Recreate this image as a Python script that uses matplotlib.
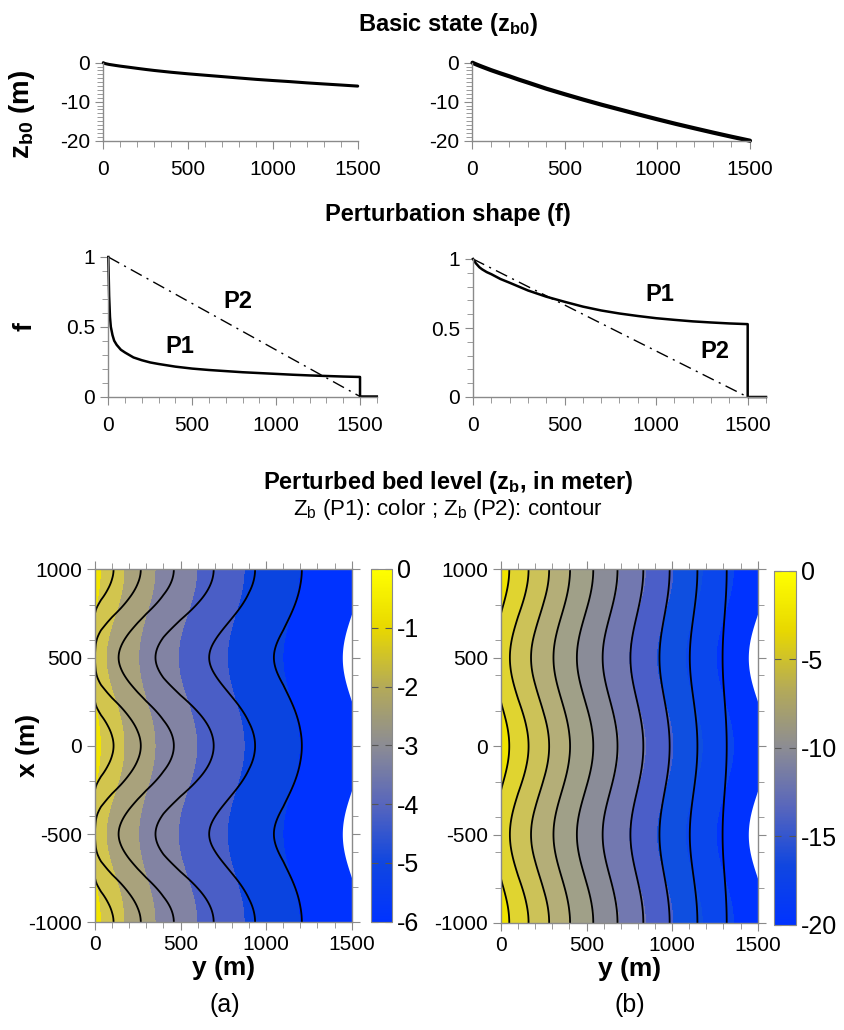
import numpy as np
import matplotlib
matplotlib.use("Agg")
import matplotlib.pyplot as plt
from matplotlib.colors import LinearSegmentedColormap, Normalize
from matplotlib.cm import ScalarMappable
from matplotlib.ticker import MultipleLocator

plt.rcParams["font.family"] = ["Liberation Sans", "DejaVu Sans"]
plt.rcParams["mathtext.fontset"] = "custom"
plt.rcParams["mathtext.rm"] = "Liberation Sans"
plt.rcParams["mathtext.bf"] = "Liberation Sans:bold"
plt.rcParams["mathtext.it"] = "Liberation Sans:italic"
plt.rcParams["axes.unicode_minus"] = False

# Поперечная координата y (м)
y_pos = [0, 5, 10, 15, 25, 35, 50, 75, 100, 150, 200, 250, 300, 400,
         500, 600, 700, 800, 900, 1000, 1100, 1200, 1300, 1400, 1500]

# Базовое состояние z_b0 (м)
zb0_a = [0, -0.12, -0.2, -0.26, -0.36, -0.45, -0.55, -0.72, -0.88, -1.16,
         -1.45, -1.73, -1.99, -2.45, -2.85, -3.21, -3.56, -3.92, -4.27,
         -4.57, -4.85, -5.17, -5.45, -5.72, -6.0]
zb0_b = [0, -0.12, -0.23, -0.33, -0.53, -0.72, -1.0, -1.45, -1.9, -2.72,
         -3.5, -4.33, -5.1, -6.68, -8.1, -9.48, -10.8, -12.05, -13.3,
         -14.52, -15.7, -16.82, -17.92, -18.98, -20.0]

# Форма возмущения P1
f1_a = [1.0, 0.72, 0.57, 0.5, 0.44, 0.4, 0.37, 0.335, 0.315, 0.28, 0.26,
        0.244, 0.233, 0.214, 0.2, 0.19, 0.182, 0.174, 0.168, 0.162, 0.156,
        0.151, 0.147, 0.143, 0.14]
f1_b = [1.0, 0.99, 0.98, 0.97, 0.955, 0.94, 0.925, 0.905, 0.89, 0.855,
        0.828, 0.8, 0.772, 0.727, 0.69, 0.655, 0.627, 0.605, 0.587, 0.571,
        0.559, 0.548, 0.54, 0.533, 0.528]

# Форма возмущения P2 (прямая)
p2_y = [0, 1500]
p2_f = [1.0, 0.0]

# Хвост P1 после берега
tail_y = [1500, 1600]
tail_f = [0.0, 0.0]

# Продольная координата x (м), длина волны и амплитуда
x_pos = np.linspace(-1000, 1000, 201)
wavelength = 1000
amp = 1.0
bite = 55

# Уровни и цвета заливки
levels_a = [-7, -5, -4, -3, -2, -1, 0, 2]
colors_a = ["#0033FF", "#0A44E0", "#4A5EC6", "#8283A3", "#A9A27C",
            "#D2C54E", "#F2E400"]
lines_a = [-5, -4, -3, -2, -1, 0]

levels_b = [-21, -18, -16, -14, -12, -10, -8, -6, -4, -2, 0, 2]
colors_b = ["#0033FF", "#0A46EC", "#0F4FE0", "#4B5EC8", "#7278B0",
            "#8A8C98", "#A0A088", "#B4AE78", "#CCC258", "#E0D430", "#F0E400"]
lines_b = [-18, -16, -14, -12, -10, -8, -6, -4, -2, 0]

cbar_cmap = LinearSegmentedColormap.from_list(
    "zb",
    [(0.0, "#0033FF"), (0.167, "#1046E0"), (0.333, "#5866BC"),
     (0.5, "#8C8C94"), (0.667, "#B4AA58"), (0.833, "#E8D800"),
     (1.0, "#FFFF00")],
)

W, H = 845, 1030
GRAY = "#8a8a8a"


def rect(left, top, right, bottom):
    return [left / W, 1 - bottom / H, (right - left) / W, (bottom - top) / H]


def setup_line_axes(ax):
    ax.spines["right"].set_visible(False)
    ax.spines["top"].set_visible(False)
    for s in ("left", "bottom"):
        ax.spines[s].set_color(GRAY)
        ax.spines[s].set_linewidth(1.0)
    ax.tick_params(which="both", direction="out", color=GRAY, labelsize=15)
    ax.tick_params(which="major", length=6)
    ax.tick_params(which="minor", length=4)


fig = plt.figure(figsize=(W / 100, H / 100), dpi=100)

# Базовое состояние
for r, zb, lw in [((103.3, 62.7, 357.7, 140.7), zb0_a, 2.2),
                  ((472.5, 62.7, 750.0, 140.7), zb0_b, 3.0)]:
    ax = fig.add_axes(rect(*r))
    ax.plot(y_pos, zb, color="k", linewidth=lw, clip_on=False,
            solid_capstyle="round")
    ax.set_xlim(0, 1500)
    ax.set_ylim(-20, 0)
    ax.xaxis.set_major_locator(MultipleLocator(500))
    ax.xaxis.set_minor_locator(MultipleLocator(100))
    ax.yaxis.set_major_locator(MultipleLocator(10))
    ax.yaxis.set_minor_locator(MultipleLocator(1))
    setup_line_axes(ax)
    ax.tick_params(axis="x", pad=8)

# Форма возмущения
f_axes = []
for r, f1 in [((108.3, 257.0, 376.8, 396.5), f1_a),
              ((473.0, 259.0, 766.0, 397.0), f1_b)]:
    ax = fig.add_axes(rect(*r))
    ax.plot(y_pos + tail_y, f1 + tail_f, color="k", linewidth=1.8,
            clip_on=False)
    ax.plot(p2_y, p2_f, color="k", linewidth=1.0,
            linestyle=(0, (9, 4, 1.5, 4)), clip_on=False)
    ax.set_xlim(0, 1600)
    ax.set_ylim(0, 1)
    ax.xaxis.set_major_locator(MultipleLocator(500))
    ax.xaxis.set_minor_locator(MultipleLocator(100))
    ax.yaxis.set_major_locator(MultipleLocator(0.5))
    ax.yaxis.set_minor_locator(MultipleLocator(0.1))
    ax.yaxis.set_major_formatter(lambda v, p: f"{v:g}")
    setup_line_axes(ax)
    ax.tick_params(axis="x", pad=8)
    f_axes.append(ax)

lab = dict(fontsize=17, fontweight="bold", ha="center", va="center")
f_axes[0].text(427, 0.357, "P1", **lab)
f_axes[0].text(770, 0.68, "P2", **lab)
f_axes[1].text(1020, 0.74, "P1", **lab)
f_axes[1].text(1320, 0.33, "P2", **lab)

# Возмущённое дно
y_arr = np.array(y_pos)
Y, X = np.meshgrid(y_arr, x_pos)
mod = np.cos(2 * np.pi * X / wavelength)
p2_vals = np.interp(y_arr, p2_y, p2_f)
edge = np.minimum(1500, 1500 + bite * np.cos(2 * np.pi * x_pos / wavelength))

panels = [
    ((95.0, 569.3, 351.7, 922.3), (370.7, 569.0, 391.7, 921.5),
     zb0_a, f1_a, levels_a, colors_a, lines_a, (-6, 0), 1),
    ((501.0, 569.3, 757.7, 923.0), (774.3, 570.7, 796.0, 925.0),
     zb0_b, f1_b, levels_b, colors_b, lines_b, (-20, 0), 5),
]
for r, cr, zb, f1, lev, cols, lns, lims, step in panels:
    ax = fig.add_axes(rect(*r))
    zb = np.array(zb)
    z1 = zb[None, :] + amp * np.array(f1)[None, :] * mod
    z2 = zb[None, :] + amp * p2_vals[None, :] * mod
    ax.contourf(Y, X, z1, levels=lev, colors=cols)
    ax.fill_betweenx(x_pos, edge, 1500, color="white", linewidth=0)
    ax.contour(Y, X, z2, levels=lns, colors="k", linewidths=1.3,
               linestyles="solid")
    ax.set_xlim(0, 1500)
    ax.set_ylim(-1000, 1000)
    ax.xaxis.set_major_locator(MultipleLocator(500))
    ax.xaxis.set_minor_locator(MultipleLocator(100))
    ax.yaxis.set_major_locator(MultipleLocator(500))
    ax.yaxis.set_minor_locator(MultipleLocator(200))
    for s in ax.spines.values():
        s.set_color(GRAY)
        s.set_linewidth(1.0)
    ax.tick_params(which="both", direction="out", color=GRAY, labelsize=15,
                   top=True, right=True)
    ax.tick_params(which="major", length=6)
    ax.tick_params(which="minor", length=4)
    ax.set_xlabel("y (m)", fontsize=19, fontweight="bold", labelpad=1)

    cax = fig.add_axes(rect(*cr))
    sm = ScalarMappable(norm=Normalize(*lims), cmap=cbar_cmap)
    cb = fig.colorbar(sm, cax=cax, ticks=np.arange(lims[0], lims[1] + 1, step))
    cb.outline.set_edgecolor(GRAY)
    cb.outline.set_linewidth(0.8)
    cax.tick_params(direction="in", length=5, color="#555555",
                    labelsize=18, left=True, right=True)

# Подписи
fig.text(448 / W, 1 - 25 / H, r"Basic state (z$_{\mathbf{b0}}$)",
         fontsize=17, fontweight="bold", ha="center", va="center")
fig.text(448 / W, 1 - 215 / H, "Perturbation shape (f)",
         fontsize=17, fontweight="bold", ha="center", va="center")
fig.text(448 / W, 1 - 482 / H,
         r"Perturbed bed level (z$_{\mathbf{b}}$, in meter)",
         fontsize=17, fontweight="bold", ha="center", va="center")
fig.text(448 / W, 1 - 510 / H,
         r"Z$_{\rm b}$ (P1): color ; Z$_{\rm b}$ (P2): contour",
         fontsize=16, ha="center", va="center")
fig.text(22 / W, 1 - 114 / H, r"z$_{\mathbf{b0}}$ (m)", fontsize=20,
         fontweight="bold", rotation=90, ha="center", va="center")
fig.text(25 / W, 1 - 327 / H, "f", fontsize=19, fontweight="bold",
         rotation=90, ha="center", va="center")
fig.text(28 / W, 1 - 745 / H, "x (m)", fontsize=19, fontweight="bold",
         rotation=90, ha="center", va="center")
fig.text(225 / W, 1 - 1005 / H, "(a)", fontsize=18, ha="center", va="center")
fig.text(630 / W, 1 - 1005 / H, "(b)", fontsize=18, ha="center", va="center")

fig.savefig("out.png", dpi=100)
